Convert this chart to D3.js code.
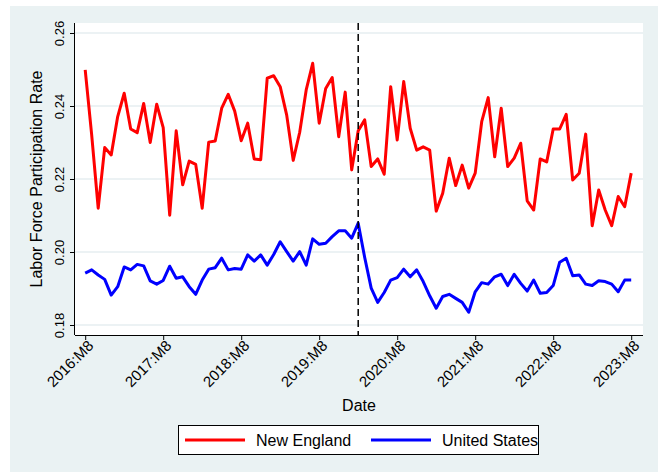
<!DOCTYPE html>
<html>
<head>
<meta charset="utf-8">
<script src="https://cdn.jsdelivr.net/npm/d3@7"></script>
<style>
  html, body { margin: 0; padding: 0; background: #ffffff; }
  svg { display: block; font-family: "Liberation Sans", Arial, sans-serif; }
</style>
</head>
<body>
<svg id="chart" width="658" height="472"></svg>
<script>
// Monthly labor force participation rate, 2016:M8 .. 2023:M8
const newEngland = [
  0.2499, 0.2320, 0.2120, 0.2286, 0.2266, 0.2371, 0.2435, 0.2337, 0.2327, 0.2407,
  0.2300, 0.2405, 0.2341, 0.2101, 0.2332, 0.2184, 0.2249, 0.2240, 0.2120, 0.2301,
  0.2304, 0.2394, 0.2432, 0.2386, 0.2305, 0.2353, 0.2255, 0.2253, 0.2476, 0.2483,
  0.2453, 0.2375, 0.2251, 0.2328, 0.2444, 0.2517, 0.2353, 0.2448, 0.2478, 0.2316,
  0.2438, 0.2225, 0.2332, 0.2362, 0.2234, 0.2255, 0.2213, 0.2453, 0.2307, 0.2467,
  0.2339, 0.2279, 0.2288, 0.2279, 0.2112, 0.2161, 0.2257, 0.2182, 0.2238, 0.2175,
  0.2216, 0.2357, 0.2423, 0.2261, 0.2394, 0.2234, 0.2257, 0.2298, 0.2140, 0.2115,
  0.2255, 0.2247, 0.2337, 0.2337, 0.2377, 0.2197, 0.2216, 0.2323, 0.2072, 0.2170,
  0.2115, 0.2072, 0.2152, 0.2124, 0.2216
];
const unitedStates = [
  0.1942, 0.1951, 0.1937, 0.1925, 0.1882, 0.1905, 0.1959, 0.1951, 0.1966, 0.1962,
  0.1921, 0.1912, 0.1922, 0.1961, 0.1928, 0.1932, 0.1905, 0.1884, 0.1923, 0.1953,
  0.1957, 0.1983, 0.1951, 0.1955, 0.1953, 0.1992, 0.1975, 0.1992, 0.1964, 0.1993,
  0.2028, 0.2001, 0.1975, 0.2001, 0.1964, 0.2036, 0.2021, 0.2024, 0.2042, 0.2058,
  0.2058, 0.2038, 0.2079, 0.1985, 0.1901, 0.1862, 0.1889, 0.1923, 0.1930, 0.1953,
  0.1932, 0.1951, 0.1919, 0.1880, 0.1846, 0.1878, 0.1884, 0.1873, 0.1862, 0.1835,
  0.1891, 0.1916, 0.1912, 0.1932, 0.1939, 0.1908, 0.1939, 0.1914, 0.1893, 0.1923,
  0.1887, 0.1889, 0.1908, 0.1972, 0.1983, 0.1935, 0.1937, 0.1912, 0.1908, 0.1921,
  0.1919, 0.1912, 0.1891, 0.1923, 0.1923
];
const xTickIndex = [0, 12, 24, 36, 48, 60, 72, 84];
const xTickLabels = ["2016:M8", "2017:M8", "2018:M8", "2019:M8", "2020:M8", "2021:M8", "2022:M8", "2023:M8"];
const yTickValues = [0.18, 0.20, 0.22, 0.24, 0.26];
const yTickLabels = ["0.18", "0.20", "0.22", "0.24", "0.26"];
const eventIndex = 42; // 2020:M2
const seriesNames = ["New England", "United States"];
const seriesColors = ["#ff0000", "#0000ff"];

const svg = d3.select("#chart");
const plot = { left: 75, right: 643, top: 23, bottom: 335 };

// outer graph region
svg.append("rect").attr("x", 10).attr("y", 6).attr("width", 648).attr("height", 466)
  .attr("fill", "#eaf2f3");
// plot region
svg.append("rect").attr("x", plot.left).attr("y", plot.top)
  .attr("width", plot.right - plot.left).attr("height", plot.bottom - plot.top)
  .attr("fill", "#ffffff");

const x = d3.scaleLinear().domain([0, 84]).range([85.2, 631.2]);
const y = d3.scaleLinear().domain([0.18, 0.26]).range([325, 33]);

// horizontal grid
svg.append("g").selectAll("line").data(yTickValues).join("line")
  .attr("x1", plot.left).attr("x2", plot.right)
  .attr("y1", d => y(d)).attr("y2", d => y(d))
  .attr("stroke", "#e6eef0").attr("stroke-width", 1.5);

// series lines
const line = d3.line().x((d, i) => x(i)).y(d => y(d)).curve(d3.curveLinear);
[newEngland, unitedStates].forEach((s, k) => {
  svg.append("path").datum(s).attr("d", line)
    .attr("fill", "none").attr("stroke", seriesColors[k])
    .attr("stroke-width", 3).attr("stroke-linejoin", "round");
});

// event marker
svg.append("line")
  .attr("x1", x(eventIndex)).attr("x2", x(eventIndex))
  .attr("y1", plot.top).attr("y2", plot.bottom)
  .attr("stroke", "#000").attr("stroke-width", 1.5)
  .attr("stroke-dasharray", "7,4");

// y axis
const yAxis = d3.axisLeft(y).tickValues(yTickValues)
  .tickFormat((d, i) => yTickLabels[i]).tickSize(5).tickPadding(6);
const gy = svg.append("g").attr("transform", `translate(${plot.left},0)`).call(yAxis);
gy.select(".domain").attr("d", `M-0.5,${plot.top}V${plot.bottom}`).attr("stroke", "#000");
gy.selectAll(".tick line").attr("stroke", "#000");
gy.selectAll(".tick text")
  .attr("font-size", 13).attr("fill", "#000")
  .attr("text-anchor", "middle")
  .attr("transform", "translate(-15,0) rotate(-90)")
  .attr("x", 0).attr("dy", "0.32em").attr("y", 0);

// x axis
const xAxis = d3.axisBottom(x).tickValues(xTickIndex)
  .tickFormat((d, i) => xTickLabels[i]).tickSize(5).tickPadding(4);
const gx = svg.append("g").attr("transform", `translate(0,${plot.bottom})`).call(xAxis);
gx.select(".domain").attr("d", `M${plot.left},0.5H${plot.right}`).attr("stroke", "#000");
gx.selectAll(".tick line").attr("stroke", "#000");
gx.selectAll(".tick text")
  .attr("font-size", 15).attr("fill", "#000")
  .attr("text-anchor", "end")
  .attr("transform", "translate(5,8) rotate(-45)")
  .attr("x", 0).attr("y", 0).attr("dy", "0.35em");

// axis titles
svg.append("text")
  .attr("transform", `translate(42,${(plot.top + plot.bottom) / 2}) rotate(-90)`)
  .attr("text-anchor", "middle").attr("font-size", 16).attr("fill", "#000")
  .text("Labor Force Participation Rate");
svg.append("text")
  .attr("x", (plot.left + plot.right) / 2).attr("y", 411)
  .attr("text-anchor", "middle").attr("font-size", 16).attr("fill", "#000")
  .text("Date");

// legend
const legend = svg.append("g");
legend.append("rect").attr("x", 178.5).attr("y", 425.5).attr("width", 360).attr("height", 29)
  .attr("fill", "#fff").attr("stroke", "#000").attr("stroke-width", 1);
const legendX = [185, 371];
seriesNames.forEach((name, k) => {
  legend.append("line")
    .attr("x1", legendX[k]).attr("x2", legendX[k] + 60)
    .attr("y1", 440).attr("y2", 440)
    .attr("stroke", seriesColors[k]).attr("stroke-width", 3);
  legend.append("text")
    .attr("x", legendX[k] + 71).attr("y", 446)
    .attr("font-size", 16).attr("fill", "#000")
    .text(name);
});
</script>
</body>
</html>
